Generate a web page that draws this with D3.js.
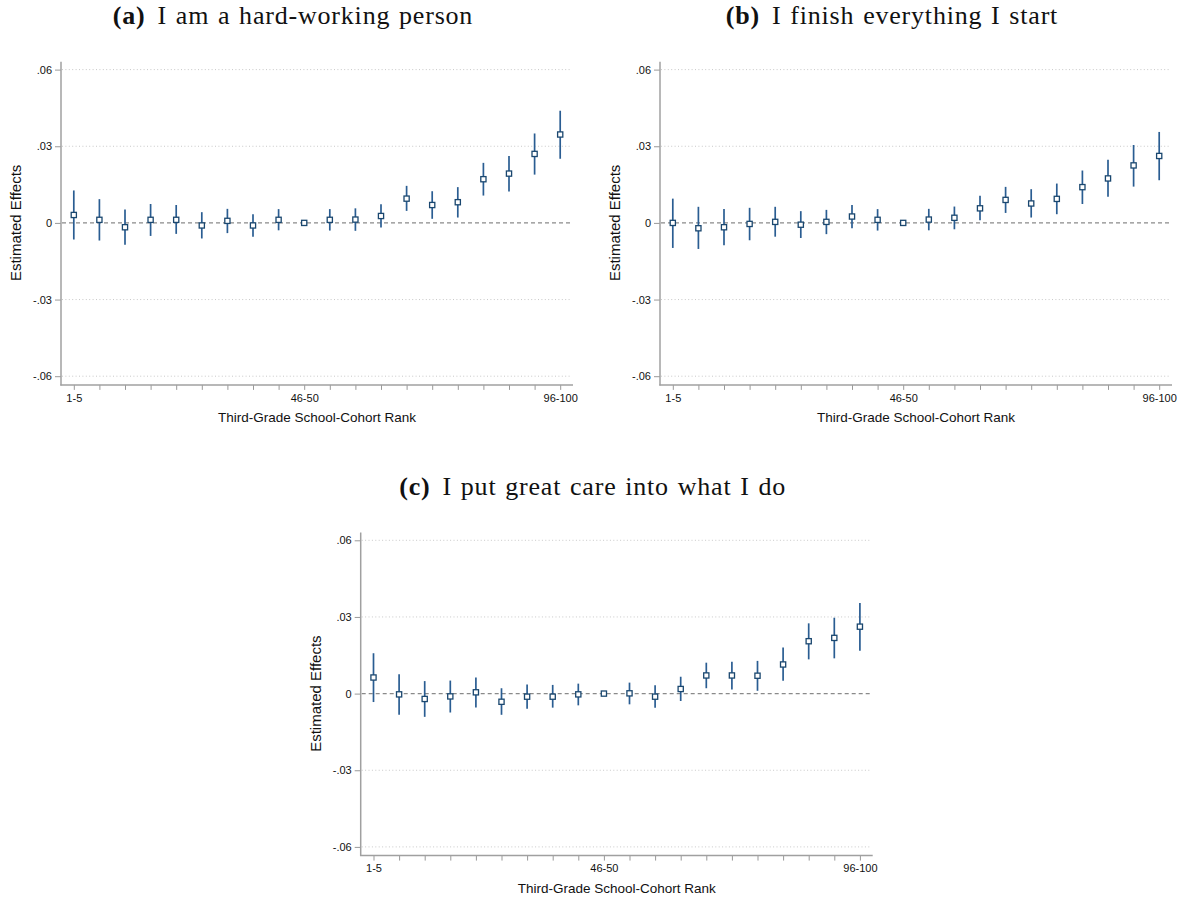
<!DOCTYPE html>
<html>
<head>
<meta charset="UTF-8">
<title>Estimated Effects by Rank</title>
<script src="https://cdn.jsdelivr.net/npm/d3@7/dist/d3.min.js"></script>
<style>
    body { margin: 0; background: #fff; }
    .tick text { font-family: "Liberation Sans", Arial, sans-serif; font-size: 11px; fill: #111; }
    .axis-title { font-family: "Liberation Sans", Arial, sans-serif; font-size: 13.5px; fill: #111; }
    .y-title { font-size: 15px; }
    .panel-title { font-family: "Liberation Serif", "DejaVu Serif", serif; font-size: 26px; fill: #111;
        letter-spacing: 0.8px; word-spacing: 1.5px; }
</style>
</head>
<body>
<svg id="chart" width="1184" height="901"></svg>
<script>
// rank bins (5 percentile groups); only a few get a label
var bins = ["1-5", "6-10", "11-15", "16-20", "21-25", "26-30", "31-35", "36-40", "41-45", "46-50",
    "51-55", "56-60", "61-65", "66-70", "71-75", "76-80", "81-85", "86-90", "91-95", "96-100"];
var labelledBins = ["1-5", "46-50", "96-100"];
var yTicks = [-0.06, -0.03, 0, 0.03, 0.06];

// (a) I am a hard-working person
var estA = [0.0031, 0.0012, -0.0017, 0.0012, 0.0012, -0.0010, 0.0008, -0.0010, 0.0012, 0,
    0.0012, 0.0013, 0.0027, 0.0095, 0.0070, 0.0081, 0.0171, 0.0193, 0.0270, 0.0346];
var hiA = [0.0127, 0.0093, 0.0052, 0.0074, 0.0070, 0.0042, 0.0055, 0.0034, 0.0054, 0,
    0.0054, 0.0057, 0.0073, 0.0145, 0.0124, 0.0140, 0.0235, 0.0262, 0.0350, 0.0439];
var loA = [-0.0065, -0.0069, -0.0086, -0.0051, -0.0043, -0.0061, -0.0040, -0.0054, -0.0029, 0,
    -0.0030, -0.0031, -0.0018, 0.0047, 0.0016, 0.0021, 0.0107, 0.0123, 0.0189, 0.0251];

// (b) I finish everything I start
var estB = [0.0000, -0.0021, -0.0017, -0.0004, 0.0004, -0.0007, 0.0004, 0.0025, 0.0012, 0,
    0.0013, 0.0020, 0.0057, 0.0090, 0.0076, 0.0094, 0.0140, 0.0174, 0.0225, 0.0262];
var hiB = [0.0095, 0.0063, 0.0054, 0.0059, 0.0063, 0.0046, 0.0051, 0.0070, 0.0054, 0,
    0.0055, 0.0064, 0.0106, 0.0141, 0.0132, 0.0154, 0.0205, 0.0247, 0.0305, 0.0356];
var loB = [-0.0098, -0.0102, -0.0087, -0.0068, -0.0054, -0.0059, -0.0044, -0.0021, -0.0030, 0,
    -0.0029, -0.0025, 0.0010, 0.0039, 0.0021, 0.0034, 0.0074, 0.0102, 0.0142, 0.0167];

// (c) I put great care into what I do
var estC = [0.0063, -0.0003, -0.0021, -0.0011, 0.0005, -0.0032, -0.0012, -0.0012, -0.0003, 0,
    0.0001, -0.0012, 0.0018, 0.0071, 0.0071, 0.0070, 0.0114, 0.0205, 0.0218, 0.0262];
var hiC = [0.0158, 0.0076, 0.0049, 0.0051, 0.0063, 0.0021, 0.0036, 0.0034, 0.0039, 0,
    0.0043, 0.0033, 0.0066, 0.0121, 0.0125, 0.0128, 0.0180, 0.0275, 0.0297, 0.0355];
var loC = [-0.0033, -0.0083, -0.0091, -0.0074, -0.0054, -0.0083, -0.0059, -0.0055, -0.0046, 0,
    -0.0042, -0.0055, -0.0029, 0.0021, 0.0016, 0.0011, 0.0050, 0.0134, 0.0138, 0.0168];

var panels = [
    {tag: "(a)", title: "I am a hard-working person", est: estA, hi: hiA, lo: loA, dx: 0, dy: 0},
    {tag: "(b)", title: "I finish everything I start", est: estB, hi: hiB, lo: loB, dx: 599, dy: 0},
    {tag: "(c)", title: "I put great care into what I do", est: estC, hi: hiC, lo: loC, dx: 299.7, dy: 470.7}
];

var svg = d3.select("#chart");
var navy = "#1a476f";

// same frame inside every panel
var x = d3.scalePoint().domain(bins).range([61, 573]).padding(0.5);
var y = d3.scaleLinear().domain([-0.06, 0.06]).range([376.2, 69.6]);
var yBottom = y(-0.0634), yTop = y(0.0631);

function fmt(v) {
    if (v === 0) return "0";
    return (v < 0 ? "-" : "") + d3.format(".2f")(Math.abs(v)).replace(/^0/, "");
}

panels.forEach(function (p) {
    var g = svg.append("g").attr("transform", "translate(" + p.dx + "," + p.dy + ")");

    // title: bold tag + roman text
    var t = g.append("text").attr("class", "panel-title")
        .attr("x", 293).attr("y", 24).attr("text-anchor", "middle");
    t.append("tspan").attr("font-weight", "bold").text(p.tag);
    t.append("tspan").attr("dx", 12).text(p.title);

    // dotted grid
    g.selectAll(".grid").data(yTicks.filter(function (d) { return d !== 0; }))
        .enter().append("line")
        .attr("x1", 62).attr("x2", 572)
        .attr("y1", function (d) { return y(d); })
        .attr("y2", function (d) { return y(d); })
        .attr("stroke", "#c8c8c8").attr("stroke-width", 1)
        .attr("stroke-dasharray", "1,2.4");

    // zero reference line
    g.append("line")
        .attr("x1", 62).attr("x2", 572).attr("y1", y(0)).attr("y2", y(0))
        .attr("stroke", "#8a8a8a").attr("stroke-width", 1.3)
        .attr("stroke-dasharray", "4,3");

    // y axis
    var ya = g.append("g").attr("transform", "translate(61,0)")
        .call(d3.axisLeft(y).tickValues(yTicks).tickFormat(fmt).tickSize(6).tickPadding(3));
    ya.select(".domain").remove();
    ya.selectAll(".tick line").attr("stroke", "#999");
    g.append("line").attr("x1", 61).attr("x2", 61).attr("y1", yTop).attr("y2", yBottom + 0.5)
        .attr("stroke", "#a0a0a0").attr("stroke-width", 1.5);

    // x axis
    var xa = g.append("g").attr("transform", "translate(0," + yBottom + ")")
        .call(d3.axisBottom(x).tickSize(5).tickPadding(4)
            .tickFormat(function (d) { return labelledBins.indexOf(d) >= 0 ? d : ""; }));
    xa.select(".domain").remove();
    xa.selectAll(".tick line").attr("stroke", "#999");
    g.append("line").attr("x1", 60.3).attr("x2", 573).attr("y1", yBottom).attr("y2", yBottom)
        .attr("stroke", "#a0a0a0").attr("stroke-width", 1.5);

    g.append("text").attr("class", "axis-title y-title")
        .attr("transform", "translate(21," + y(0) + ") rotate(-90)")
        .attr("text-anchor", "middle").text("Estimated Effects");
    g.append("text").attr("class", "axis-title")
        .attr("x", 317).attr("y", 422).attr("text-anchor", "middle")
        .text("Third-Grade School-Cohort Rank");

    // confidence intervals
    var rows = bins.map(function (b, i) { return {bin: b, est: p.est[i], hi: p.hi[i], lo: p.lo[i]}; });
    g.selectAll(".ci").data(rows.filter(function (d) { return d.hi !== d.lo; }))
        .enter().append("line")
        .attr("x1", function (d) { return x(d.bin); })
        .attr("x2", function (d) { return x(d.bin); })
        .attr("y1", function (d) { return y(d.hi); })
        .attr("y2", function (d) { return y(d.lo); })
        .attr("stroke", "#2a5d92").attr("stroke-width", 1.7);

    // point estimates: hollow squares
    g.selectAll(".pt").data(rows).enter().append("rect")
        .attr("x", function (d) { return x(d.bin) - 2.6; })
        .attr("y", function (d) { return y(d.est) - 2.6; })
        .attr("width", 5.2).attr("height", 5.2)
        .attr("fill", "#fff").attr("stroke", navy).attr("stroke-width", 1.3);
});
</script>
</body>
</html>
